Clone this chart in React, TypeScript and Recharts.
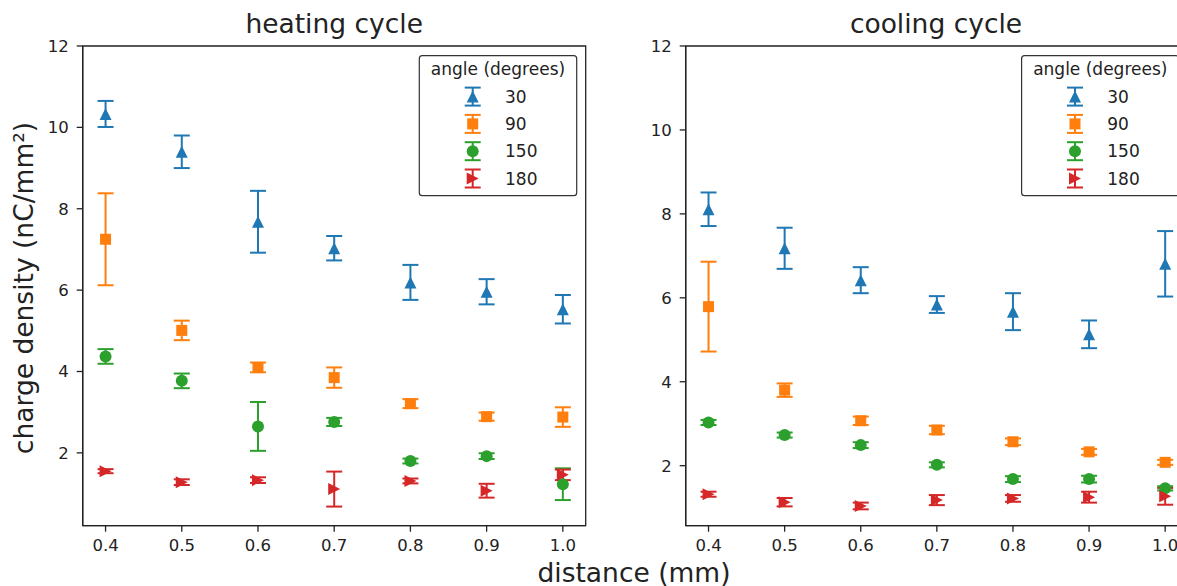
import React from "react";
import { ScatterChart, Scatter, XAxis, YAxis, ErrorBar, ReferenceArea } from "recharts";

const distances = [0.4, 0.5, 0.6, 0.7, 0.8, 0.9, 1.0];
const angles = ["30", "90", "150", "180"];
const colors = ["#1f77b4", "#ff7f0e", "#2ca02c", "#d62728"];
const yTicks = [2, 4, 6, 8, 10, 12];

// heating cycle
const heat30 = [10.33, 9.4, 7.68, 7.03, 6.19, 5.96, 5.53];
const heat30Err = [0.32, 0.4, 0.76, 0.3, 0.43, 0.31, 0.35];
const heat90 = [7.25, 5.01, 4.1, 3.85, 3.21, 2.89, 2.88];
const heat90Err = [1.13, 0.24, 0.12, 0.25, 0.11, 0.1, 0.24];
const heat150 = [4.37, 3.77, 2.65, 2.76, 1.8, 1.92, 1.23];
const heat150Err = [0.18, 0.18, 0.6, 0.1, 0.06, 0.07, 0.39];
const heat180 = [1.55, 1.28, 1.33, 1.11, 1.31, 1.07, 1.46];
const heat180Err = [0.05, 0.07, 0.07, 0.43, 0.06, 0.17, 0.13];

// cooling cycle
const cool30 = [8.11, 7.18, 6.42, 5.84, 5.67, 5.13, 6.81];
const cool30Err = [0.4, 0.49, 0.31, 0.2, 0.44, 0.33, 0.78];
const cool90 = [5.79, 3.8, 3.07, 2.85, 2.57, 2.33, 2.08];
const cool90Err = [1.07, 0.16, 0.1, 0.1, 0.08, 0.07, 0.06];
const cool150 = [3.03, 2.73, 2.49, 2.02, 1.68, 1.68, 1.46];
const cool150Err = [0.06, 0.06, 0.07, 0.06, 0.07, 0.08, 0.05];
const cool180 = [1.32, 1.13, 1.04, 1.18, 1.22, 1.25, 1.27];
const cool180Err = [0.06, 0.1, 0.08, 0.12, 0.08, 0.13, 0.2];

const toPoints = (vals: number[], errs: number[]) =>
  distances.map((x, i) => ({ x, y: vals[i], err: errs[i] }));

const FONT = "DejaVu Sans";
const INK = "#222";

function marker(kind: number, cx: number, cy: number, color: string) {
  const s = 6;
  if (kind === 0)
    return <path d={`M${cx},${cy - s}L${cx - s},${cy + s}L${cx + s},${cy + s}Z`} fill={color} />;
  if (kind === 1)
    return <rect x={cx - 5.5} y={cy - 5.5} width={11} height={11} fill={color} />;
  if (kind === 2) return <circle cx={cx} cy={cy} r={6} fill={color} />;
  return <path d={`M${cx + s},${cy}L${cx - s},${cy - s}L${cx - s},${cy + s}Z`} fill={color} />;
}

type PanelProps = {
  left: number;
  yMin: number;
  yAxisWidth: number;
  rightMargin: number;
  series: { x: number; y: number; err: number }[][];
};

function Panel({ left, yMin, yAxisWidth, rightMargin, series }: PanelProps) {
  return (
    <div style={{ position: "absolute", left, top: 0 }}>
      <ScatterChart
        width={600}
        height={586}
        margin={{ top: 46, right: rightMargin, bottom: 20.3, left: 0 }}
      >
        <XAxis
          type="number"
          dataKey="x"
          domain={[0.37, 1.03]}
          ticks={distances}
          tickFormatter={(v: number) => v.toFixed(1)}
          allowDataOverflow
          height={40}
          tickSize={6}
          tickMargin={8}
          stroke={INK}
          strokeWidth={1.3}
          tick={{ fill: INK, fontSize: 16.5, fontFamily: FONT }}
        />
        <YAxis
          type="number"
          dataKey="y"
          domain={[yMin, 12]}
          ticks={yTicks}
          allowDataOverflow
          width={yAxisWidth}
          tickSize={6}
          tickMargin={8}
          stroke={INK}
          strokeWidth={1.3}
          tick={{ fill: INK, fontSize: 16.5, fontFamily: FONT }}
        />
        <ReferenceArea
          x1={0.37}
          x2={1.03}
          y1={yMin}
          y2={12}
          fill="none"
          fillOpacity={0}
          stroke={INK}
          strokeWidth={1.3}
          ifOverflow="visible"
        />
        {series.map((pts, i) => (
          <Scatter
            key={angles[i]}
            name={angles[i]}
            data={pts}
            fill={colors[i]}
            isAnimationActive={false}
            shape={(p: any) => marker(i, p.cx, p.cy, colors[i])}
          >
            <ErrorBar
              dataKey="err"
              direction="y"
              width={8}
              stroke={colors[i]}
              strokeWidth={2}
              isAnimationActive={false}
            />
          </Scatter>
        ))}
      </ScatterChart>
    </div>
  );
}

function LegendBox({ right }: { right: number }) {
  const w = 157.4;
  const bx = right - w;
  return (
    <g>
      <rect x={bx} y={55.7} width={w} height={140} rx={3} fill="#fff" fillOpacity={0.8} stroke="#333" strokeWidth={1.2} />
      <text x={bx + w / 2} y={75} textAnchor="middle" fontSize={17} fill={INK}>
        angle (degrees)
      </text>
      {angles.map((a, i) => {
        const base = 102.6 + i * 27.3;
        const cx = bx + 53.4;
        const cy = base - 6;
        return (
          <g key={a}>
            <line x1={cx} y1={cy - 9} x2={cx} y2={cy + 9} stroke={colors[i]} strokeWidth={2} />
            <line x1={cx - 8} y1={cy - 9} x2={cx + 8} y2={cy - 9} stroke={colors[i]} strokeWidth={2} />
            <line x1={cx - 8} y1={cy + 9} x2={cx + 8} y2={cy + 9} stroke={colors[i]} strokeWidth={2} />
            {marker(i, cx, cy, colors[i])}
            <text x={bx + 85.7} y={base} fontSize={17} fill={INK}>
              {a}
            </text>
          </g>
        );
      })}
    </g>
  );
}

export default function App() {
  const heating = [
    toPoints(heat30, heat30Err),
    toPoints(heat90, heat90Err),
    toPoints(heat150, heat150Err),
    toPoints(heat180, heat180Err),
  ];
  const cooling = [
    toPoints(cool30, cool30Err),
    toPoints(cool90, cool90Err),
    toPoints(cool150, cool150Err),
    toPoints(cool180, cool180Err),
  ];
  return (
    <div
      style={{
        position: "absolute",
        left: 0,
        top: 0,
        width: 1177,
        height: 586,
        overflow: "hidden",
        background: "#fff",
        fontFamily: FONT,
      }}
    >
      <Panel left={0} yMin={0.21} yAxisWidth={82.7} rightMargin={14.3} series={heating} />
      <Panel left={600} yMin={0.57} yAxisWidth={85.7} rightMargin={12} series={cooling} />
      <svg
        width={1177}
        height={586}
        style={{ position: "absolute", left: 0, top: 0, pointerEvents: "none" }}
        fontFamily={FONT}
      >
        <text x={334.2} y={33} textAnchor="middle" fontSize={26.5} fill={INK}>
          heating cycle
        </text>
        <text x={936} y={33} textAnchor="middle" fontSize={26.5} fill={INK}>
          cooling cycle
        </text>
        <text x={634} y={582} textAnchor="middle" fontSize={26.5} fill={INK}>
          distance (mm)
        </text>
        <text
          x={0}
          y={0}
          transform="translate(33,288) rotate(-90)"
          textAnchor="middle"
          fontSize={26.5}
          fill={INK}
        >
          charge density (nC/mm²)
        </text>
        <LegendBox right={576.7} />
        <LegendBox right={1179} />
      </svg>
    </div>
  );
}
